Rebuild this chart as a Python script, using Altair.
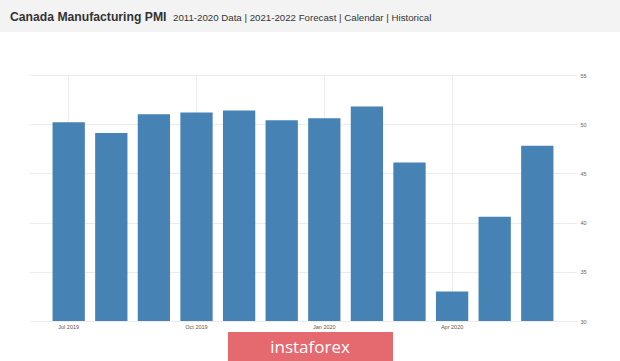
import altair as alt
import pandas as pd

months = ["Jul 2019", "Aug 2019", "Sep 2019", "Oct 2019", "Nov 2019", "Dec 2019",
          "Jan 2020", "Feb 2020", "Mar 2020", "Apr 2020", "May 2020", "Jun 2020"]
pmi = [50.2, 49.1, 51.0, 51.2, 51.4, 50.4, 50.6, 51.8, 46.1, 33.0, 40.6, 47.8]
tick_months = ["Jul 2019", "Oct 2019", "Jan 2020", "Apr 2020"]
y_ticks = [30, 35, 40, 45, 50, 55]
y_base = 30

title_main = "Canada Manufacturing PMI"
title_links = "2011-2020 Data | 2021-2022 Forecast | Calendar | Historical"
badge_text = "instaforex"

df = pd.DataFrame({"month": months, "pmi": pmi})

W, H = 548, 246

bars = alt.Chart(df).mark_bar(color="#4682b4").encode(
    x=alt.X("month:N", sort=months, title=None,
            scale=alt.Scale(paddingInner=0.242, paddingOuter=0.553),
            axis=alt.Axis(values=tick_months, bandPosition=0.5, grid=True,
                          gridColor="#ececec", domain=False, ticks=False,
                          labelAngle=0, labelFontSize=5.5, labelColor="#555",
                          labelPadding=3, labelFont="Liberation Sans")),
    y=alt.Y("pmi:Q", title=None,
            scale=alt.Scale(domain=[30, 55], nice=False, zero=False),
            axis=alt.Axis(orient="right", values=y_ticks, grid=True,
                          gridColor="#ececec", domain=False, ticks=False,
                          labelFontSize=5.5, labelColor="#666", labelPadding=3,
                          labelFont="Liberation Sans")),
    y2=alt.datum(y_base),
)

one = pd.DataFrame({"a": [0]})

header = alt.Chart(one).mark_rect(color="#f3f3f3").encode(
    x=alt.value(-29), x2=alt.value(591), y=alt.value(-75), y2=alt.value(-43))

t1 = alt.Chart(pd.DataFrame({"t": [title_main]})).mark_text(
    align="left", baseline="alphabetic", font="Liberation Sans",
    fontWeight="bold", fontSize=12.2, color="#333").encode(
    text="t:N", x=alt.value(-19), y=alt.value(-54))

t2 = alt.Chart(pd.DataFrame({"t": [title_links]})).mark_text(
    align="left", baseline="alphabetic", font="Liberation Sans",
    fontSize=9.7, color="#333").encode(
    text="t:N", x=alt.value(144), y=alt.value(-54))

badge = alt.Chart(one).mark_rect(color="#e46a6f").encode(
    x=alt.value(199), x2=alt.value(364), y=alt.value(257), y2=alt.value(290))

badge_t = alt.Chart(pd.DataFrame({"t": [badge_text]})).mark_text(
    align="center", baseline="alphabetic", font="Open Sans",
    fontSize=17, color="white").encode(
    text="t:N", x=alt.value(281), y=alt.value(278))

chart = alt.layer(header, t1, t2, bars, badge, badge_t).properties(
    width=W, height=H,
    autosize=alt.AutoSizeParams(type="none"),
    padding={"left": 29, "top": 75, "right": 43, "bottom": 40},
    background="white",
).configure_view(strokeWidth=0)

chart.save("out.html", embed_options={"renderer": "svg", "actions": False})
